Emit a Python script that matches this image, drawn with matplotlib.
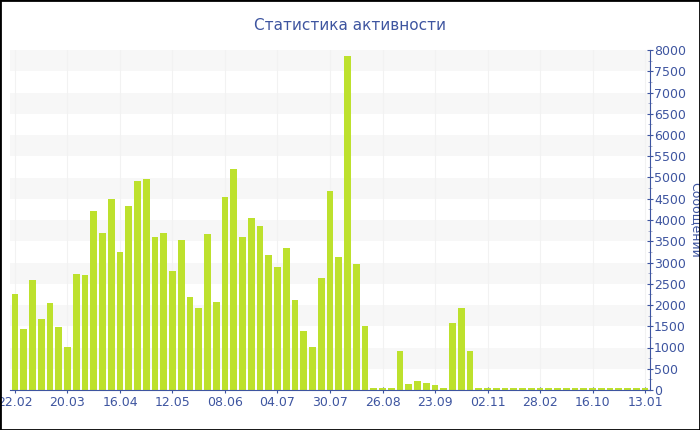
import matplotlib
matplotlib.use("Agg")
import matplotlib.pyplot as plt
from matplotlib.patches import Rectangle
from matplotlib.ticker import MultipleLocator

plt.rcParams['font.family'] = ['DejaVu Sans']

title = "Статистика активности"
ylabel = "Сообщений"

values = [2250, 1430, 2590, 1670, 2050, 1480, 1010, 2730, 2710, 4210,
          3690, 4490, 3240, 4340, 4920, 4960, 3590, 3690, 2790, 3530,
          2180, 1940, 3660, 2060, 4540, 5190, 3610, 4050, 3870, 3180,
          2900, 3340, 2110, 1390, 1010, 2630, 4690, 3140, 7860, 2970,
          1500, 40, 45, 40, 925, 134, 219, 157, 110, 55,
          1585, 1920, 925, 40, 50, 40, 40, 40, 40, 40,
          40, 40, 40, 45, 40, 40, 40, 40, 40, 40,
          40, 40, 40]
tick_labels = ["22.02", "20.03", "16.04", "12.05", "08.06", "04.07", "30.07",
               "26.08", "23.09", "02.11", "28.02", "16.10", "13.01"]
tick_step = 6

blue = '#3e55a0'
bar_color = '#bde12d'

fig = plt.figure(figsize=(7, 4.3), dpi=100)
ax = fig.add_axes([10/700, 40/430, 640/700, 340/430])

x = list(range(len(values)))
ax.set_xlim(-0.57, len(values) - 1 + 0.57)
ax.set_ylim(0, 8000)

# alternating bands
for lo in range(500, 8000, 1000):
    ax.axhspan(lo, lo + 500, color='#f7f7f7', zorder=0, lw=0)

tick_pos = list(range(0, len(values), tick_step))
for t in tick_pos:
    ax.axvline(t, color='#f2f2f2', lw=0.8, zorder=0.5)

ax.bar(x, values, width=0.78, color=bar_color, linewidth=0, zorder=2)

for s in ['top', 'left']:
    ax.spines[s].set_visible(False)
ax.spines['bottom'].set_color(blue)
ax.spines['right'].set_color(blue)
ax.spines['bottom'].set_zorder(3)

ax.yaxis.tick_right()
ax.yaxis.set_label_position('right')
ax.yaxis.set_major_locator(MultipleLocator(500))
ax.yaxis.set_minor_locator(MultipleLocator(250))
ax.tick_params(axis='y', which='major', colors=blue, labelcolor=blue, length=4,
               direction='inout', labelsize=9, pad=1)
ax.tick_params(axis='y', which='minor', colors='#a0a8c8', length=3, direction='inout')
ax.set_xticks(tick_pos)
ax.set_xticklabels(tick_labels[:len(tick_pos)])
ax.tick_params(axis='x', colors=blue, labelcolor=blue, length=4, direction='inout',
               labelsize=9, pad=2)
ax.set_ylabel(ylabel, color=blue, fontsize=9, rotation=-90, va='center', ha='center')
ax.yaxis.set_label_coords((695 - 10) / 640, 0.5)

fig.text(0.5, 1 - 26/430, title, ha='center', va='center', color=blue, fontsize=11,
         family=['Liberation Sans Narrow', 'DejaVu Sans'])

fig.patches.append(Rectangle((0, 0), 1, 1, transform=fig.transFigure, fill=False,
                             edgecolor='black', lw=2, zorder=10))

fig.savefig('out.png', dpi=100)
